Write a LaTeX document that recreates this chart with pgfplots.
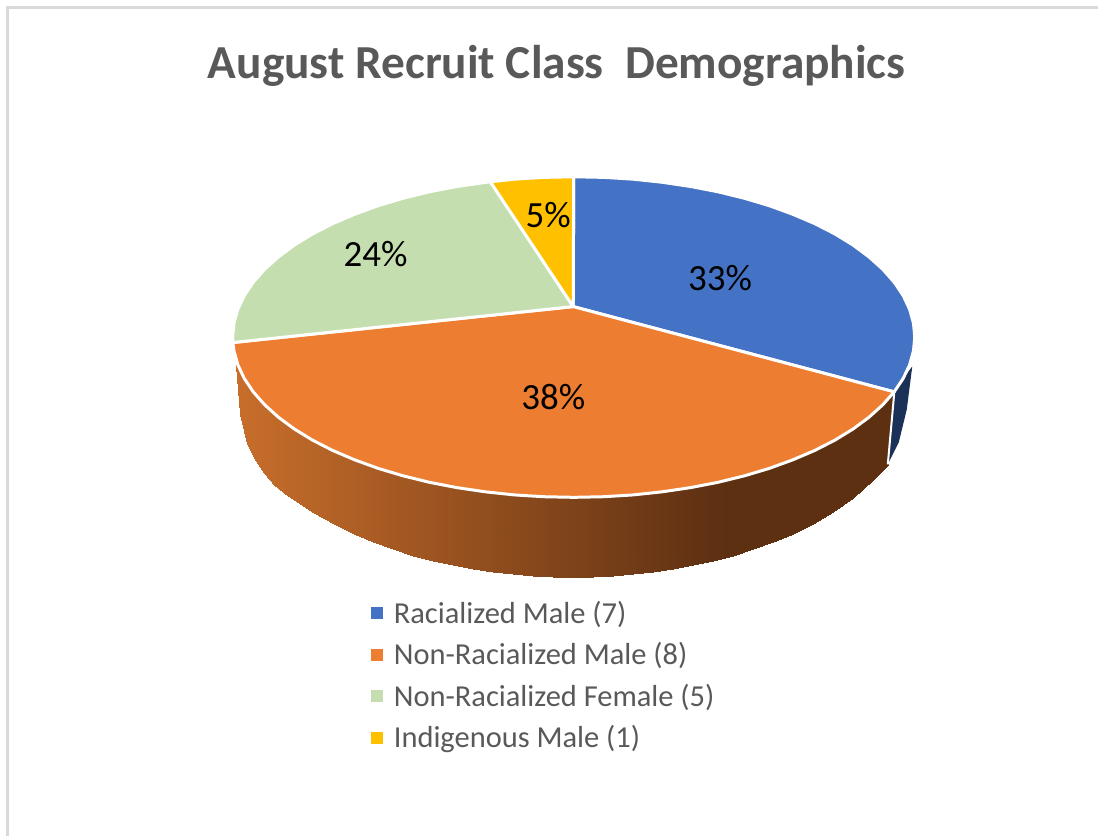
\documentclass[border=0pt]{standalone}
\usepackage{pgfplots}
\pgfplotsset{compat=1.18}
\usepackage{fontspec}
\setmainfont{Carlito}
\definecolor{cblue}{HTML}{4472C4}
\definecolor{corange}{HTML}{ED7D31}
\definecolor{cgreen}{HTML}{C5DEB0}
\definecolor{cyellow}{HTML}{FFC000}
\definecolor{cdblue}{HTML}{1C3158}
\definecolor{cgrey}{HTML}{595959}
\definecolor{cframe}{HTML}{D9D9D9}
\begin{document}
\begin{tikzpicture}
\begin{axis}[
  width=1099pt,height=837pt,scale only axis,
  xmin=0,xmax=1099,ymin=0,ymax=837,y dir=reverse,
  hide axis,clip=false,
  colormap={side}{rgb255=(200,110,43) rgb255=(94,48,18)},
  point meta min=0,point meta max=1,
  legend cell align=left,
  legend style={at={(axis cs:372,600)},anchor=north west,draw=none,fill=none,
    font=\fontsize{30.5}{36}\selectfont\color{cgrey},inner sep=0pt,outer sep=0pt,
    row sep=13.7pt,
    /tikz/every odd column/.append style={column sep=9pt}},
  legend image code/.code={\fill[#1] (0pt,-5.5pt) rectangle (11pt,5.5pt);},
]
\path (axis cs:0,0) rectangle (axis cs:1099,837);
\addlegendimage{cblue}\addlegendentry{Racialized Male (7)}
\addlegendimage{corange}\addlegendentry{Non-Racialized Male (8)}
\addlegendimage{cgreen}\addlegendentry{Non-Racialized Female (5)}
\addlegendimage{cyellow}\addlegendentry{Indigenous Male (1)}
% frame
\addplot[cframe,line width=3pt,forget plot] coordinates {(8,837)(8,8)(1099,8)};
% orange side wall
\addplot[surf,mesh/rows=2,shader=interp,
  point meta=explicit,forget plot] table[meta=c] {
x y c
236 365 0
240 371 .01
247 383.7 .025
254 393.5 .04
264 404.8 .06
274 414.2 .08
284 422.3 .1
294 429.4 .12
314 441.6 .16
334 451.7 .2
354 460.3 .245
374 467.6 .285
394 473.9 .33
414 479.3 .37
434 483.9 .41
454 487.8 .45
474 491 .495
494 493.5 .535
514 495.5 .575
534 496.9 .615
554 497.7 .66
574 498 .7
594 497.7 .74
614 496.9 .78
634 495.5 .825
654 493.5 .865
674 491 .905
694 487.8 .95
714 483.9 .99
734 479.3 1
754 473.9 1
774 467.6 1
794 460.3 1
814 451.7 1
834 441.6 1
854 429.4 1
864 422.3 1
874 414.2 1
882 406.8 1
889 399.5 1
895 392.5 1
236 365 0
240 415 .01
247 445 .025
254 459 .04
264 474 .06
274 486 .08
284 494 .1
294 501 .12
314 514 .16
334 524.3 .2
354 534.3 .245
374 542.8 .285
394 550.1 .33
414 556.3 .37
434 561.7 .41
454 566.1 .45
474 569.8 .495
494 572.8 .535
514 575.1 .575
534 576.7 .615
554 577.7 .66
574 578 .7
594 577.7 .74
614 576.7 .78
634 575.1 .825
654 572.8 .865
674 569.8 .905
694 566.1 .95
714 561.7 .99
734 556.3 1
754 550.1 1
774 542.8 1
794 534.3 1
814 524.3 1
834 512.6 1
854 498.5 1
864 490 1
874 480.9 1
882 472.4 1
889 466 1
895 393 1
};
% blue side wall
\addplot[fill=cdblue,draw=none,forget plot] coordinates {(913.5,367)(905,378)(895.5,393)(889,465)(900,443)(908,410)} --cycle;
\addplot[white,line width=2pt,forget plot] coordinates {(895.5,393)(889,465)};
% top faces
\addplot[fill=cblue,draw=white,line width=3pt,line join=round,forget plot] coordinates {
(574,307)(574.5,177)(604.3,177.6)(633.8,179.4)(662.9,182.5)(691.3,186.7)(718.8,192)(745.3,198.5)(770.4,206)(794,214.6)(816,224)(836.1,234.3)(854.2,245.4)(870.2,257.3)(884,269.7)(895.4,282.6)(904.4,296)(910.8,309.6)(914.7,323.5)(916,337.5)(914.7,351.5)(910.8,365.4)(904.4,379)(895.4,392.4)} --cycle;
\addplot[fill=corange,draw=white,line width=3pt,line join=round,forget plot] coordinates {
(574,307)(895.4,392.4)(884,405.3)(870.2,417.8)(854.2,429.6)(836.1,440.7)(816,451)(794,460.4)(770.4,469)(745.3,476.5)(718.8,483)(691.3,488.3)(662.9,492.5)(633.8,495.6)(604.3,497.4)(574.5,498)(544.7,497.4)(515.2,495.6)(486.1,492.5)(457.7,488.3)(430.2,483)(403.8,476.5)(378.6,469)(355,460.4)(333,451)(312.9,440.7)(294.8,429.6)(278.8,417.8)(265,405.3)(253.6,392.4)(244.6,379)(238.2,365.4)(234.3,351.5)(233.2,343)} --cycle;
\addplot[fill=cgreen,draw=white,line width=3pt,line join=round,forget plot] coordinates {
(574,307)(233.2,343)(233,337.5)(234.3,323.5)(238.2,309.6)(244.6,296)(253.6,282.6)(265,269.7)(278.8,257.3)(294.8,245.4)(312.9,234.3)(333,224)(355,214.6)(378.6,206)(403.8,198.5)(430.2,192)(457.7,186.7)(491,182)} --cycle;
\addplot[fill=cyellow,draw=white,line width=3pt,line join=round,forget plot] coordinates {
(574,307)(491,182)(515.2,179.4)(544.7,177.6)(574.5,177)} --cycle;
% labels
\node[font=\fontsize{37}{37}\selectfont] at (axis cs:721,278) {33\%};
\node[font=\fontsize{37}{37}\selectfont] at (axis cs:554,398) {38\%};
\node[font=\fontsize{37}{37}\selectfont] at (axis cs:376,254) {24\%};
\node[font=\fontsize{37}{37}\selectfont] at (axis cs:549,215) {5\%};
\node[font=\fontsize{47.4}{47.4}\selectfont\bfseries,text=cgrey] at (axis cs:557.5,66) {August Recruit Class\ \ Demographics};
\end{axis}
\end{tikzpicture}
\end{document}
